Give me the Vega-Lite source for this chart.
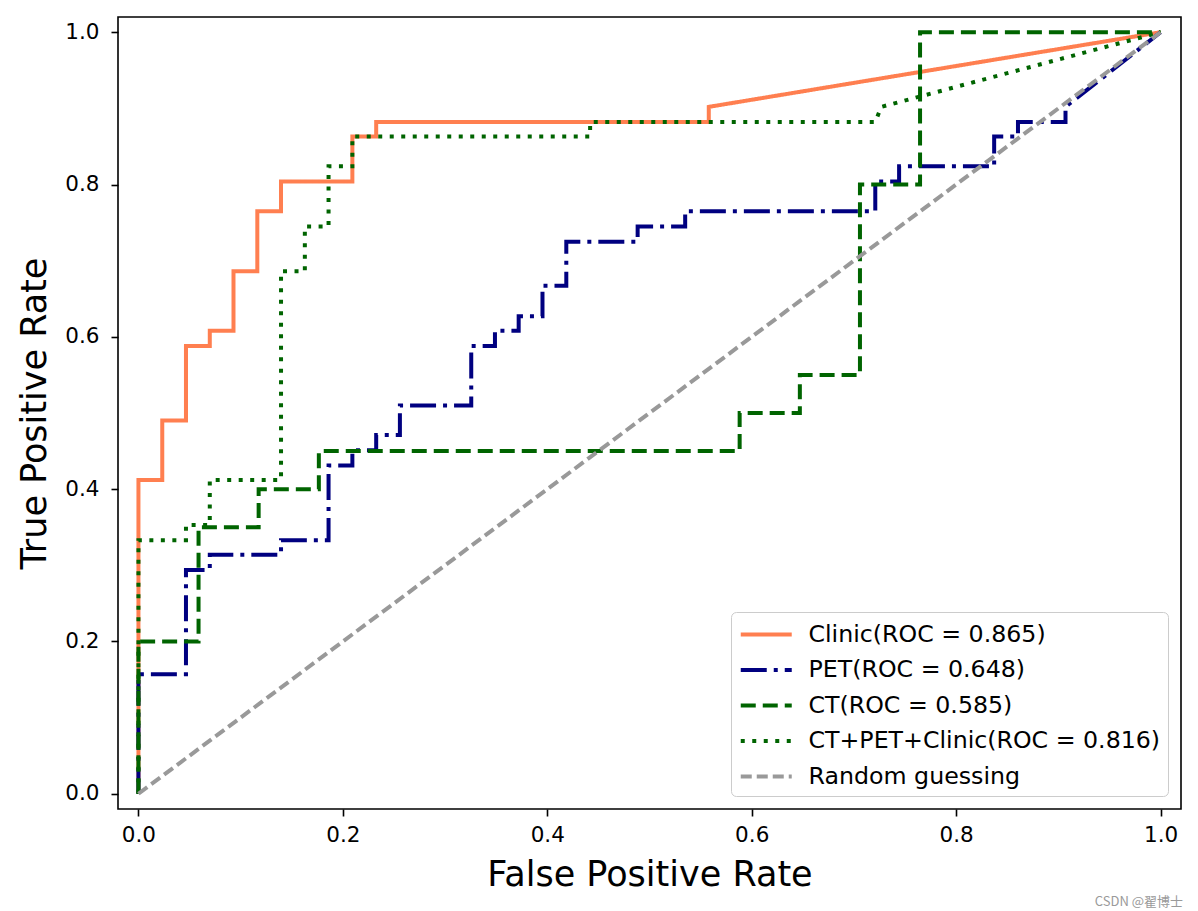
{
  "$schema": "https://vega.github.io/schema/vega-lite/v6.json",
  "width": 1063,
  "height": 792,
  "autosize": {"type": "none"},
  "padding": {"left": 118, "top": 17, "right": 17, "bottom": 102},
  "background": "white",
  "title": {
    "text": "CSDN @翟博士",
    "orient": "bottom",
    "anchor": "end",
    "font": "Noto Sans CJK SC",
    "fontSize": 13,
    "fontWeight": "normal",
    "color": "#9a9a9a",
    "offset": 4,
    "dx": 2
  },
  "data": {
    "values": [
      {"model": "Clinic(ROC = 0.865)", "fpr": 0, "tpr": 0},
      {"model": "Clinic(ROC = 0.865)", "fpr": 0, "tpr": 0.412},
      {"model": "Clinic(ROC = 0.865)", "fpr": 0.0233, "tpr": 0.412},
      {"model": "Clinic(ROC = 0.865)", "fpr": 0.0233, "tpr": 0.490},
      {"model": "Clinic(ROC = 0.865)", "fpr": 0.0465, "tpr": 0.490},
      {"model": "Clinic(ROC = 0.865)", "fpr": 0.0465, "tpr": 0.588},
      {"model": "Clinic(ROC = 0.865)", "fpr": 0.0698, "tpr": 0.588},
      {"model": "Clinic(ROC = 0.865)", "fpr": 0.0698, "tpr": 0.608},
      {"model": "Clinic(ROC = 0.865)", "fpr": 0.093, "tpr": 0.608},
      {"model": "Clinic(ROC = 0.865)", "fpr": 0.093, "tpr": 0.686},
      {"model": "Clinic(ROC = 0.865)", "fpr": 0.1163, "tpr": 0.686},
      {"model": "Clinic(ROC = 0.865)", "fpr": 0.1163, "tpr": 0.765},
      {"model": "Clinic(ROC = 0.865)", "fpr": 0.1395, "tpr": 0.765},
      {"model": "Clinic(ROC = 0.865)", "fpr": 0.1395, "tpr": 0.804},
      {"model": "Clinic(ROC = 0.865)", "fpr": 0.2093, "tpr": 0.804},
      {"model": "Clinic(ROC = 0.865)", "fpr": 0.2093, "tpr": 0.863},
      {"model": "Clinic(ROC = 0.865)", "fpr": 0.2326, "tpr": 0.863},
      {"model": "Clinic(ROC = 0.865)", "fpr": 0.2326, "tpr": 0.882},
      {"model": "Clinic(ROC = 0.865)", "fpr": 0.558, "tpr": 0.882},
      {"model": "Clinic(ROC = 0.865)", "fpr": 0.558, "tpr": 0.902},
      {"model": "Clinic(ROC = 0.865)", "fpr": 1, "tpr": 1},

      {"model": "PET(ROC = 0.648)", "fpr": 0, "tpr": 0},
      {"model": "PET(ROC = 0.648)", "fpr": 0, "tpr": 0.157},
      {"model": "PET(ROC = 0.648)", "fpr": 0.0465, "tpr": 0.157},
      {"model": "PET(ROC = 0.648)", "fpr": 0.0465, "tpr": 0.294},
      {"model": "PET(ROC = 0.648)", "fpr": 0.0698, "tpr": 0.294},
      {"model": "PET(ROC = 0.648)", "fpr": 0.0698, "tpr": 0.314},
      {"model": "PET(ROC = 0.648)", "fpr": 0.1395, "tpr": 0.314},
      {"model": "PET(ROC = 0.648)", "fpr": 0.1395, "tpr": 0.333},
      {"model": "PET(ROC = 0.648)", "fpr": 0.186, "tpr": 0.333},
      {"model": "PET(ROC = 0.648)", "fpr": 0.186, "tpr": 0.431},
      {"model": "PET(ROC = 0.648)", "fpr": 0.2093, "tpr": 0.431},
      {"model": "PET(ROC = 0.648)", "fpr": 0.2093, "tpr": 0.451},
      {"model": "PET(ROC = 0.648)", "fpr": 0.2326, "tpr": 0.451},
      {"model": "PET(ROC = 0.648)", "fpr": 0.2326, "tpr": 0.471},
      {"model": "PET(ROC = 0.648)", "fpr": 0.2558, "tpr": 0.471},
      {"model": "PET(ROC = 0.648)", "fpr": 0.2558, "tpr": 0.510},
      {"model": "PET(ROC = 0.648)", "fpr": 0.3256, "tpr": 0.510},
      {"model": "PET(ROC = 0.648)", "fpr": 0.3256, "tpr": 0.588},
      {"model": "PET(ROC = 0.648)", "fpr": 0.3488, "tpr": 0.588},
      {"model": "PET(ROC = 0.648)", "fpr": 0.3488, "tpr": 0.608},
      {"model": "PET(ROC = 0.648)", "fpr": 0.372, "tpr": 0.608},
      {"model": "PET(ROC = 0.648)", "fpr": 0.372, "tpr": 0.627},
      {"model": "PET(ROC = 0.648)", "fpr": 0.3953, "tpr": 0.627},
      {"model": "PET(ROC = 0.648)", "fpr": 0.3953, "tpr": 0.667},
      {"model": "PET(ROC = 0.648)", "fpr": 0.4186, "tpr": 0.667},
      {"model": "PET(ROC = 0.648)", "fpr": 0.4186, "tpr": 0.725},
      {"model": "PET(ROC = 0.648)", "fpr": 0.4884, "tpr": 0.725},
      {"model": "PET(ROC = 0.648)", "fpr": 0.4884, "tpr": 0.745},
      {"model": "PET(ROC = 0.648)", "fpr": 0.5349, "tpr": 0.745},
      {"model": "PET(ROC = 0.648)", "fpr": 0.5349, "tpr": 0.765},
      {"model": "PET(ROC = 0.648)", "fpr": 0.7209, "tpr": 0.765},
      {"model": "PET(ROC = 0.648)", "fpr": 0.7209, "tpr": 0.804},
      {"model": "PET(ROC = 0.648)", "fpr": 0.7442, "tpr": 0.804},
      {"model": "PET(ROC = 0.648)", "fpr": 0.7442, "tpr": 0.824},
      {"model": "PET(ROC = 0.648)", "fpr": 0.8372, "tpr": 0.824},
      {"model": "PET(ROC = 0.648)", "fpr": 0.8372, "tpr": 0.863},
      {"model": "PET(ROC = 0.648)", "fpr": 0.8605, "tpr": 0.863},
      {"model": "PET(ROC = 0.648)", "fpr": 0.8605, "tpr": 0.882},
      {"model": "PET(ROC = 0.648)", "fpr": 0.907, "tpr": 0.882},
      {"model": "PET(ROC = 0.648)", "fpr": 0.907, "tpr": 0.902},
      {"model": "PET(ROC = 0.648)", "fpr": 1, "tpr": 1},

      {"model": "CT(ROC = 0.585)", "fpr": 0, "tpr": 0},
      {"model": "CT(ROC = 0.585)", "fpr": 0, "tpr": 0.2},
      {"model": "CT(ROC = 0.585)", "fpr": 0.0588, "tpr": 0.2},
      {"model": "CT(ROC = 0.585)", "fpr": 0.0588, "tpr": 0.35},
      {"model": "CT(ROC = 0.585)", "fpr": 0.1176, "tpr": 0.35},
      {"model": "CT(ROC = 0.585)", "fpr": 0.1176, "tpr": 0.4},
      {"model": "CT(ROC = 0.585)", "fpr": 0.1765, "tpr": 0.4},
      {"model": "CT(ROC = 0.585)", "fpr": 0.1765, "tpr": 0.45},
      {"model": "CT(ROC = 0.585)", "fpr": 0.5882, "tpr": 0.45},
      {"model": "CT(ROC = 0.585)", "fpr": 0.5882, "tpr": 0.5},
      {"model": "CT(ROC = 0.585)", "fpr": 0.6471, "tpr": 0.5},
      {"model": "CT(ROC = 0.585)", "fpr": 0.6471, "tpr": 0.55},
      {"model": "CT(ROC = 0.585)", "fpr": 0.7059, "tpr": 0.55},
      {"model": "CT(ROC = 0.585)", "fpr": 0.7059, "tpr": 0.8},
      {"model": "CT(ROC = 0.585)", "fpr": 0.7647, "tpr": 0.8},
      {"model": "CT(ROC = 0.585)", "fpr": 0.7647, "tpr": 1},
      {"model": "CT(ROC = 0.585)", "fpr": 1, "tpr": 1},

      {"model": "CT+PET+Clinic(ROC = 0.816)", "fpr": 0, "tpr": 0},
      {"model": "CT+PET+Clinic(ROC = 0.816)", "fpr": 0, "tpr": 0.333},
      {"model": "CT+PET+Clinic(ROC = 0.816)", "fpr": 0.0465, "tpr": 0.333},
      {"model": "CT+PET+Clinic(ROC = 0.816)", "fpr": 0.0465, "tpr": 0.353},
      {"model": "CT+PET+Clinic(ROC = 0.816)", "fpr": 0.0698, "tpr": 0.353},
      {"model": "CT+PET+Clinic(ROC = 0.816)", "fpr": 0.0698, "tpr": 0.412},
      {"model": "CT+PET+Clinic(ROC = 0.816)", "fpr": 0.1395, "tpr": 0.412},
      {"model": "CT+PET+Clinic(ROC = 0.816)", "fpr": 0.1395, "tpr": 0.686},
      {"model": "CT+PET+Clinic(ROC = 0.816)", "fpr": 0.1628, "tpr": 0.686},
      {"model": "CT+PET+Clinic(ROC = 0.816)", "fpr": 0.1628, "tpr": 0.745},
      {"model": "CT+PET+Clinic(ROC = 0.816)", "fpr": 0.186, "tpr": 0.745},
      {"model": "CT+PET+Clinic(ROC = 0.816)", "fpr": 0.186, "tpr": 0.824},
      {"model": "CT+PET+Clinic(ROC = 0.816)", "fpr": 0.2093, "tpr": 0.824},
      {"model": "CT+PET+Clinic(ROC = 0.816)", "fpr": 0.2093, "tpr": 0.863},
      {"model": "CT+PET+Clinic(ROC = 0.816)", "fpr": 0.4419, "tpr": 0.863},
      {"model": "CT+PET+Clinic(ROC = 0.816)", "fpr": 0.4419, "tpr": 0.882},
      {"model": "CT+PET+Clinic(ROC = 0.816)", "fpr": 0.7209, "tpr": 0.882},
      {"model": "CT+PET+Clinic(ROC = 0.816)", "fpr": 0.7267, "tpr": 0.902},
      {"model": "CT+PET+Clinic(ROC = 0.816)", "fpr": 1, "tpr": 1},

      {"model": "Random guessing", "fpr": 0, "tpr": 0},
      {"model": "Random guessing", "fpr": 1, "tpr": 1}
    ]
  },
  "mark": {"type": "line", "strokeCap": "butt", "strokeJoin": "miter", "clip": true},
  "encoding": {
    "x": {
      "field": "fpr",
      "type": "quantitative",
      "title": "False Positive Rate",
      "scale": {"domain": [-0.02, 1.02], "nice": false, "zero": false},
      "axis": {
        "values": [0, 0.2, 0.4, 0.6, 0.8, 1.0],
        "format": ".1f",
        "labelPadding": 8,
        "titleY": 76,
        "titleBaseline": "alphabetic"
      }
    },
    "y": {
      "field": "tpr",
      "type": "quantitative",
      "title": "True Positive Rate",
      "scale": {"domain": [-0.02, 1.02], "nice": false, "zero": false},
      "axis": {
        "values": [0, 0.2, 0.4, 0.6, 0.8, 1.0],
        "format": ".1f",
        "labelPadding": 12,
        "titleX": -73,
        "titleY": 396,
        "titleAngle": -90,
        "titleBaseline": "alphabetic",
        "titleAlign": "center"
      }
    },
    "order": {"value": null},
    "color": {
      "field": "model",
      "type": "nominal",
      "title": null,
      "scale": {
        "domain": ["Clinic(ROC = 0.865)", "PET(ROC = 0.648)", "CT(ROC = 0.585)", "CT+PET+Clinic(ROC = 0.816)", "Random guessing"],
        "range": ["#FF7F50", "#000080", "#006400", "#006400", "#999999"]
      }
    },
    "strokeDash": {
      "field": "model",
      "type": "nominal",
      "title": null,
      "scale": {
        "domain": ["Clinic(ROC = 0.865)", "PET(ROC = 0.648)", "CT(ROC = 0.585)", "CT+PET+Clinic(ROC = 0.816)", "Random guessing"],
        "range": [[1, 0], [26, 7, 4, 7], [15, 7], [4, 7.5], [11, 5]]
      }
    },
    "strokeWidth": {
      "field": "model",
      "type": "nominal",
      "title": null,
      "scale": {
        "domain": ["Clinic(ROC = 0.865)", "PET(ROC = 0.648)", "CT(ROC = 0.585)", "CT+PET+Clinic(ROC = 0.816)", "Random guessing"],
        "range": [4, 4, 4, 4, 3]
      }
    }
  },
  "config": {
    "font": "DejaVu Sans",
    "view": {"stroke": "black", "strokeWidth": 1.6},
    "axis": {
      "grid": false,
      "domain": false,
      "tickColor": "black",
      "tickWidth": 1.6,
      "tickSize": 7,
      "labelColor": "black",
      "labelFont": "DejaVu Sans",
      "labelFontSize": 21.5,
      "labelFlush": false,
      "labelOverlap": false,
      "titleColor": "black",
      "titleFont": "DejaVu Sans",
      "titleFontSize": 35,
      "titleFontWeight": "normal"
    },
    "legend": {
      "orient": "bottom-right",
      "offset": 13,
      "padding": 7.5,
      "strokeColor": "#cccccc",
      "fillColor": "rgba(255,255,255,0.8)",
      "cornerRadius": 5,
      "labelFont": "DejaVu Sans",
      "labelFontSize": 23.7,
      "labelColor": "black",
      "labelLimit": 600,
      "labelOffset": 40,
      "rowPadding": 8.5,
      "symbolType": "M-1,0H3",
      "symbolSize": 650,
      "symbolFillColor": "transparent",
      "symbolOpacity": 1
    }
  }
}
